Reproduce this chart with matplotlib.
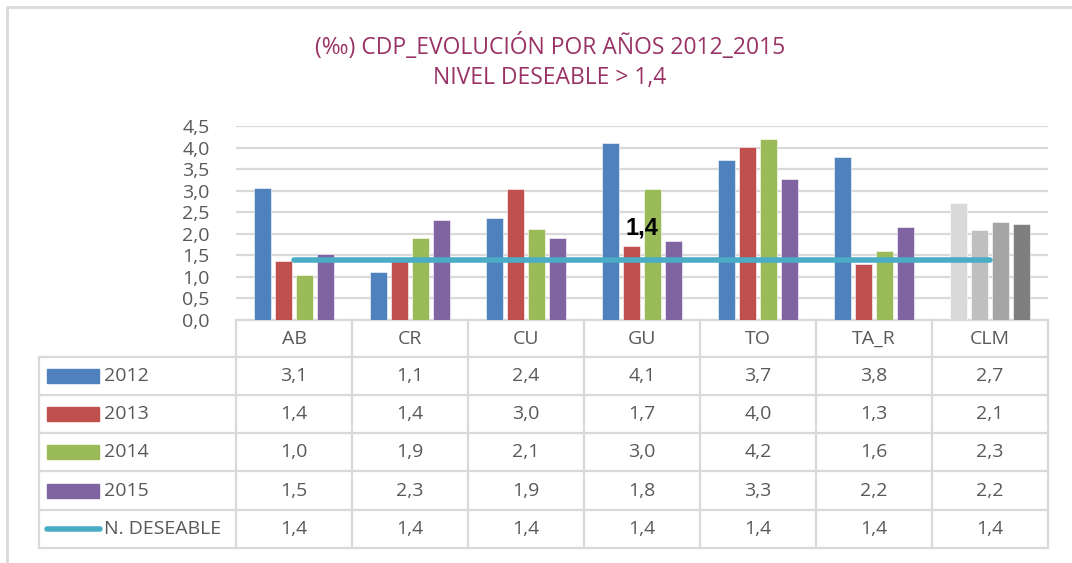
import matplotlib.pyplot as plt
from matplotlib.patches import Rectangle
from matplotlib.lines import Line2D

plt.rcParams.update({
    "font.family": ["Open Sans", "DejaVu Sans"],
    "font.size": 12,
})

# ---- data ----
categories = ["AB", "CR", "CU", "GU", "TO", "TA_R", "CLM"]
series_names = ["2012", "2013", "2014", "2015"]
v2012 = [3.07, 1.12, 2.37, 4.10, 3.72, 3.78, 2.72]
v2013 = [1.38, 1.36, 3.04, 1.72, 4.02, 1.30, 2.08]
v2014 = [1.04, 1.90, 2.10, 3.04, 4.20, 1.60, 2.28]
v2015 = [1.53, 2.32, 1.90, 1.83, 3.27, 2.16, 2.23]
deseable = [1.4] * 7
line_name = "N. DESEABLE"
series_values = [v2012, v2013, v2014, v2015]

series_colors = ["#4F81BD", "#C0504D", "#9BBB59", "#8064A2"]
clm_colors = ["#D9D9D9", "#BFBFBF", "#A5A5A5", "#7F7F7F"]
line_color = "#4BACC6"
text_gray = "#595959"
grid_gray = "#D9D9D9"
title_color = "#993366"

W, H = 1072, 563
fig = plt.figure(figsize=(W / 100, H / 100), dpi=100)

# overlay in pixel coordinates for frame + data table
ov = fig.add_axes([0, 0, 1, 1])
ov.set_xlim(0, W)
ov.set_ylim(H, 0)
ov.axis("off")

# chart frame (left + top)
ov.plot([7, 7, W + 5], [H + 5, 7, 7], color=grid_gray, lw=2, solid_capstyle="butt")

# title
ov.text(550, 47, "(‰) CDP_EVOLUCIÓN POR AÑOS 2012_2015", ha="center", va="center",
        color=title_color, fontsize=16.5)
ov.text(550, 78, "NIVEL DESEABLE > 1,4", ha="center", va="center",
        color=title_color, fontsize=16.5)

# ---- plot area ----
x0, x1, y0, y1 = 236, 1048, 320, 126
ax = fig.add_axes([x0 / W, (H - y0) / H, (x1 - x0) / W, (y0 - y1) / H])
ax.set_xlim(-0.5, len(categories) - 0.5)
ax.set_ylim(0, 4.5)
yt = [i * 0.5 for i in range(10)]
ax.set_yticks(yt)
ax.set_yticklabels([f"{t:.1f}".replace(".", ",") for t in yt], color=text_gray, fontsize=14)
ax.tick_params(axis="y", length=0, pad=19)
ax.set_xticks([])
for s in ax.spines.values():
    s.set_visible(False)
ax.grid(axis="y", color=grid_gray, lw=1.6)
ax.set_axisbelow(True)
ax.patch.set_alpha(0)

bw = 0.147
step = 0.181
for j, vals in enumerate(series_values):
    cols = [series_colors[j]] * (len(categories) - 1) + [clm_colors[j]]
    xs = [i + (j - 1.5) * step for i in range(len(categories))]
    ax.bar(xs, vals, width=bw, color=cols, edgecolor="white", linewidth=0.4, zorder=2)

ax.plot(range(len(categories)), deseable, color=line_color, lw=4,
        solid_capstyle="round", zorder=3)
ax.text(3, 2.13, "1,4", ha="center", va="center", fontsize=17,
        fontweight="bold", color="black", family=["Liberation Sans", "DejaVu Sans"], zorder=4)

# ---- data table ----
col_w = (x1 - x0) / len(categories)
row_edges = [320, 357, 395, 433, 471, 510, 548]
tbl_left = 39
lc = "#D9D9D9"
lw = 1.6
fs = 14

# horizontal lines
ov.plot([x0, x1], [row_edges[0]] * 2, color=lc, lw=lw)
for y in row_edges[1:]:
    ov.plot([tbl_left, x1], [y, y], color=lc, lw=lw)
# vertical lines
ov.plot([tbl_left, tbl_left], [row_edges[1], row_edges[-1]], color=lc, lw=lw)
for i in range(len(categories) + 1):
    ov.plot([x0 + i * col_w] * 2, [row_edges[0], row_edges[-1]], color=lc, lw=lw)

def row_center(r):
    return (row_edges[r] + row_edges[r + 1]) / 2

for i, c in enumerate(categories):
    ov.text(x0 + (i + 0.5) * col_w, row_center(0), c, ha="center", va="center",
            color=text_gray, fontsize=fs)

all_rows = series_values + [deseable]
all_names = series_names + [line_name]
for r, (name, vals) in enumerate(zip(all_names, all_rows), start=1):
    yc = row_center(r)
    if r <= 4:
        ov.add_patch(Rectangle((47, yc - 7), 52, 14, color=series_colors[r - 1]))
    else:
        ov.add_line(Line2D([47, 100], [yc, yc], color=line_color, lw=4,
                           solid_capstyle="round"))
    ov.text(104, yc, name, ha="left", va="center", color=text_gray, fontsize=fs)
    for i, v in enumerate(vals):
        ov.text(x0 + (i + 0.5) * col_w, yc, f"{v:.1f}".replace(".", ","),
                ha="center", va="center", color=text_gray, fontsize=fs)

fig.savefig("out.png", dpi=100)
